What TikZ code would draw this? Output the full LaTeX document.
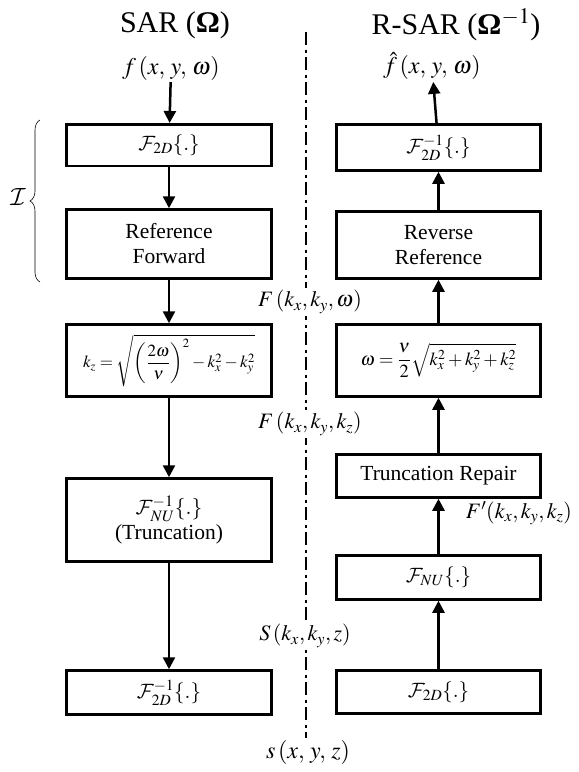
\documentclass[tikz,border=0pt]{standalone}
\usepackage{amsmath}
\usepackage{mathptmx}
\usepackage[no-math]{fontspec}
\setmainfont{Liberation Serif}
\DeclareMathAlphabet{\mathcal}{OMS}{cmsy}{m}{n}
\usetikzlibrary{decorations.pathreplacing,arrows.meta}
\begin{document}
\begin{tikzpicture}[x=1pt,y=-1pt,
  box/.style={draw, line width=2.5pt, minimum width=#1, inner sep=2pt, align=center,
     font=\fontsize{21.5}{25}\selectfont},
  box/.default=205pt,
  mth/.style={font=\fontsize{21}{24}\selectfont},
  eqn/.style={font=\fontsize{17}{20}\selectfont},
  lbl/.style={fill=white, inner sep=2pt, font=\fontsize{22}{26}\selectfont},
  ttl/.style={font=\fontsize{30}{35}\selectfont},
  arr/.style={line width=2.5pt, -{Triangle[length=12pt,width=12pt]}},
  divider/.style={line width=2.5pt, dash pattern=on 13pt off 4.5pt on 3pt off 4.5pt}]
\useasboundingbox (0,0) rectangle (579,772);
% divider
\coordinate (dtop) at (306,32);
\coordinate (dbot) at (306,738);
\draw[divider] (dtop) -- (dbot);
% titles
\node[ttl] (t1) at (175,25) {SAR (\textbf{Ω})};
\node[ttl] (t2) at (456,25) {R-SAR (\textbf{Ω}$^{-1}$)};
% left column
\node[lbl, font=\fontsize{24}{28}\selectfont] (fin) at (171,68) {$f\left(x,\,y,\,\omega\right)$};
\node[box, mth, minimum height=41.5pt] (L1) at (169,145) {$\mathcal{F}_{2D}\{.\}$};
\node[box, minimum height=69pt] (L2) at (169,244) {Reference\\Forward};
\node[box, eqn, minimum height=72pt] (L3) at (169,360.5) {$k_z=\sqrt{\left(\dfrac{2\omega}{\nu}\right)^{2}-k_x^2-k_y^2}$};
\node[box, minimum height=83pt] (L4) at (169,520) {$\mathcal{F}^{-1}_{NU}\{.\}$\\(Truncation)};
\node[box, mth, minimum height=44pt] (L5) at (169,692.5) {$\mathcal{F}^{-1}_{2D}\{.\}$};
\draw[arr] (fin) -- (L1);
\draw[arr] (L1) -- (L2);
\draw[arr] (L2) -- (L3);
\draw[arr] (L3) -- (L4);
\draw[arr] (L4) -- (L5);
% right column
\node[lbl, font=\fontsize{24}{28}\selectfont] (fout) at (432,66) {$\hat{f}\left(x,\,y,\,\omega\right)$};
\node[box=204pt, mth, minimum height=46pt] (R1) at (438.5,147.5) {$\mathcal{F}^{-1}_{2D}\{.\}$};
\node[box=204pt, minimum height=67pt] (R2) at (438.5,245) {Reverse\\Reference};
\node[box=204pt, eqn, font=\fontsize{18.5}{22}\selectfont, minimum height=72pt] (R3) at (438.5,360.5) {$\omega=\dfrac{\nu}{2}\sqrt{k_x^2+k_y^2+k_z^2}$};
\node[box=204pt, minimum height=43pt] (R4) at (438.5,476) {Truncation Repair};
\node[box=204pt, mth, minimum height=44pt] (R5) at (438.5,577.5) {$\mathcal{F}_{NU}\{.\}$};
\node[box=204pt, mth, minimum height=43pt] (R6) at (438.5,692) {$\mathcal{F}_{2D}\{.\}$};
\draw[arr] (R6) -- (R5);
\draw[arr] (R5) -- (R4);
\draw[arr] (R4) -- (R3);
\draw[arr] (R3) -- (R2);
\draw[arr] (R2) -- (R1);
\draw[arr] (R1) -- (fout);
% signal labels
\node[lbl] (s1) at (310,302) {$F\left(k_x,k_y,\omega\right)$};
\node[lbl] (s2) at (310,424) {$F\left(k_x,k_y,k_z\right)$};
\node[lbl, fill=none] (s3) at (519,513) {$F'\!\left(k_x,k_y,k_z\right)$};
\node[lbl] (s4) at (305,636) {$S\left(k_x,k_y,z\right)$};
\node[lbl, font=\fontsize{24}{28}\selectfont] (s5) at (308,752) {$s\left(x,\,y,\,z\right)$};
% brace
\coordinate (bb) at (40,282);
\coordinate (bt) at (40,120);
\draw[line width=0.6pt, decorate, decoration={brace, amplitude=10pt}] (bb) -- (bt);
\node[font=\fontsize{27}{30}\selectfont] (I) at (18,197) {$\mathcal{I}$};
\end{tikzpicture}
\end{document}
